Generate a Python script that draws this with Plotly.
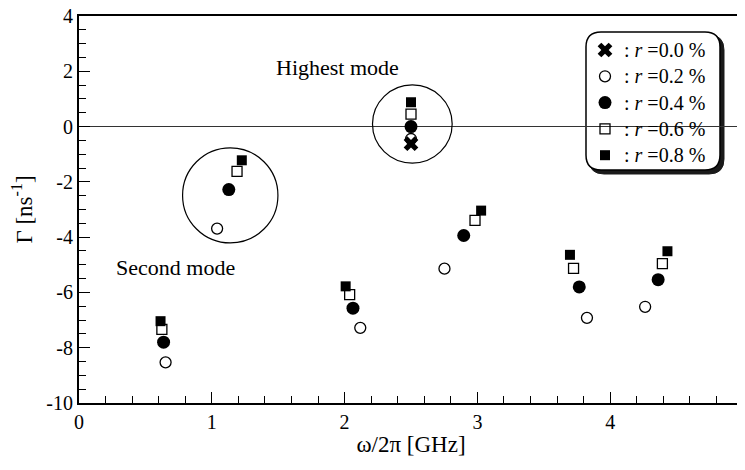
import plotly.graph_objects as go

# ---- data ----
labels = [": <i>r</i> =0.0 %", ": <i>r</i> =0.2 %", ": <i>r</i> =0.4 %", ": <i>r</i> =0.6 %", ": <i>r</i> =0.8 %"]

r00_x = [2.50]
r00_y = [-0.62]

r02_x = [0.652, 1.04, 2.118, 2.50, 2.752, 3.825, 4.263]
r02_y = [-8.53, -3.69, -7.28, -0.45, -5.14, -6.92, -6.52]

r04_x = [0.637, 1.128, 2.063, 2.50, 2.897, 3.767, 4.361]
r04_y = [-7.80, -2.28, -6.57, 0.00, -3.94, -5.80, -5.54]

r06_x = [0.624, 1.19, 2.038, 2.50, 2.982, 3.724, 4.393]
r06_y = [-7.34, -1.62, -6.08, 0.45, -3.39, -5.13, -4.96]

r08_x = [0.614, 1.226, 2.008, 2.50, 3.028, 3.697, 4.431]
r08_y = [-7.04, -1.22, -5.78, 0.88, -3.04, -4.64, -4.51]

x_tickvals = [0, 1, 2, 3, 4, 5]
x_ticktext = ["0", "1", "2", "3", "4", "5"]
y_tickvals = [-10, -8, -6, -4, -2, 0, 2, 4]
y_ticktext = ["-10", "-8", "-6", "-4", "-2", "0", "2", "4"]

FONT = "Liberation Serif"

# the page body adds an 8px offset; plot area in screen pixels: x 79..743, y 16..403
OFF = 8
SX0, SX1, SY0, SY1 = 79, 743, 16, 403
W, H = 745, 470
L, T = SX0 - OFF, SY0 - OFF
PW, PH = SX1 - SX0, SY1 - SY0
R, B = W - L - PW, H - T - PH

fig = go.Figure()

styles = [
    dict(symbol="x", size=13, color="black", line=dict(width=0)),
    dict(symbol="circle-open", size=11, color="black", line=dict(width=1.3)),
    dict(symbol="circle", size=13, color="black"),
    dict(symbol="square-open", size=10, color="black", line=dict(width=1.3)),
    dict(symbol="square", size=10, color="black"),
]
series = [(r00_x, r00_y), (r02_x, r02_y), (r04_x, r04_y), (r06_x, r06_y), (r08_x, r08_y)]

for (xs, ys), mk, lab in zip(series, styles, labels):
    fig.add_trace(go.Scatter(x=xs, y=ys, mode="markers", marker=mk, name=lab,
                             showlegend=False, cliponaxis=False))

# custom legend (rounded box) drawn on an overlay axis measured in screen pixels
LEG_X_MARK, LEG_X_TEXT, LEG_Y0, LEG_DY = 605, 622, 50, 26.3
for i, (mk, lab) in enumerate(zip(styles, labels)):
    yy = LEG_Y0 + LEG_DY * i
    fig.add_trace(go.Scatter(x=[LEG_X_MARK], y=[yy], mode="markers", marker=mk,
                             xaxis="x2", yaxis="y2", showlegend=False, hoverinfo="skip",
                             cliponaxis=False))


def pp(x, y):
    return (x - SX0) / PW, (SY1 - y) / PH


def rounded(x0, y0, x1, y1, r):
    def P(x, y):
        a, b = pp(x, y)
        return f"{a:.5f},{b:.5f}"
    return (f"M {P(x0 + r, y0)} L {P(x1 - r, y0)} Q {P(x1, y0)} {P(x1, y0 + r)} "
            f"L {P(x1, y1 - r)} Q {P(x1, y1)} {P(x1 - r, y1)} "
            f"L {P(x0 + r, y1)} Q {P(x0, y1)} {P(x0, y1 - r)} "
            f"L {P(x0, y0 + r)} Q {P(x0, y0)} {P(x0 + r, y0)} Z")


shapes = [
    dict(type="circle", xref="x", yref="y", x0=0.78, x1=1.498, y0=-4.21, y1=-0.77,
         line=dict(color="black", width=1.2), layer="above"),
    dict(type="circle", xref="x", yref="y", x0=2.21, x1=2.81, y0=-1.32, y1=1.505,
         line=dict(color="black", width=1.2), layer="above"),
    dict(type="path", xref="paper", yref="paper", path=rounded(589, 35, 724, 174, 15),
         fillcolor="#1a1a1a", line=dict(color="#1a1a1a", width=1), layer="below"),
    dict(type="path", xref="paper", yref="paper", path=rounded(586, 32, 720, 170, 15),
         fillcolor="white", line=dict(color="black", width=1.5), layer="below"),
]

axis_common = dict(
    showgrid=False, showline=True, linecolor="black", linewidth=2, mirror=True,
    ticks="inside", tickcolor="black", ticklen=11, tickwidth=1.2, automargin=False,
    ticklabeloverflow="allow",
    tickfont=dict(family=FONT, size=20, color="black"),
)

annotations = [
    dict(text="Highest mode", x=1.95, y=2.13, xref="x", yref="y", showarrow=False,
         font=dict(family=FONT, size=22, color="black")),
    dict(text="Second mode", x=0.73, y=-5.1, xref="x", yref="y", showarrow=False,
         font=dict(family=FONT, size=22, color="black")),
]
for i, lab in enumerate(labels):
    yy = LEG_Y0 + LEG_DY * i
    annotations.append(dict(text=lab, x=LEG_X_TEXT, y=yy, xref="x2", yref="y2",
                            xanchor="left", yanchor="middle", showarrow=False,
                            font=dict(family=FONT, size=20, color="black")))

fig.update_layout(
    width=W, height=H,
    margin=dict(l=L, r=R, t=T, b=B, pad=0),
    paper_bgcolor="white", plot_bgcolor="white",
    font=dict(family=FONT, color="black"),
    shapes=shapes,
    showlegend=False,
    xaxis=dict(range=[0, 5], tickvals=x_tickvals, ticktext=x_ticktext,
               minor=dict(dtick=0.2, tick0=0, ticks="inside", ticklen=7, tickwidth=1, tickcolor="black"),
               title=dict(text="ω/2π [GHz]", font=dict(family=FONT, size=23), standoff=4),
               zeroline=False, **axis_common),
    yaxis=dict(range=[-10, 4], tickvals=y_tickvals, ticktext=y_ticktext,
               minor=dict(dtick=0.5, tick0=0, ticks="inside", ticklen=7, tickwidth=1, tickcolor="black"),
               title=dict(text="Γ [ns<sup>-1</sup>]", font=dict(family=FONT, size=23), standoff=8),
               zeroline=True, zerolinecolor="#333333", zerolinewidth=1.3, **axis_common),
    xaxis2=dict(overlaying="x", range=[SX0, SX1], visible=False, domain=[0, 1]),
    yaxis2=dict(overlaying="y", range=[SY1, SY0], visible=False, domain=[0, 1]),
    annotations=annotations,
)

fig.write_html("out.html")
